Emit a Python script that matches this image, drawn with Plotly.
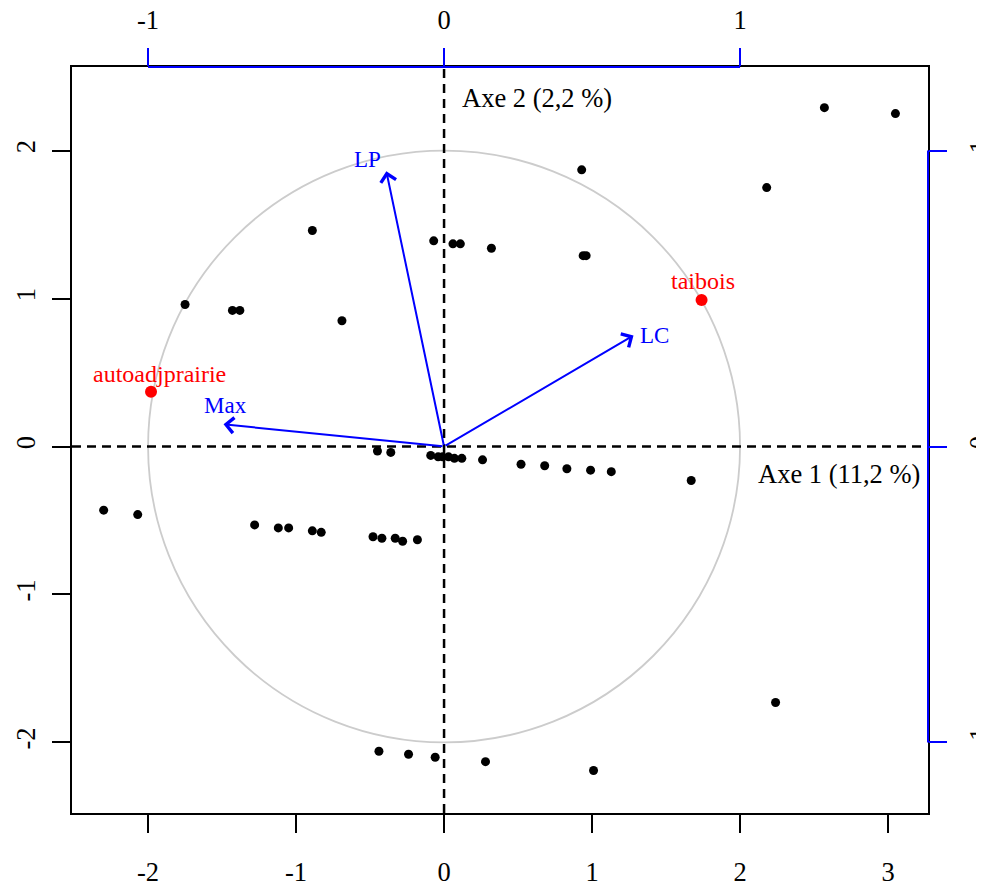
import plotly.graph_objects as go

# ---- data ----
pt_x = [2.57, 3.05, 0.93, 2.18, 0.94, 0.96, -0.07, 0.06, 0.11, 0.32, -0.89, -1.75,
        -1.43, -1.38, -0.69,
        -0.45, -0.36,
        -0.09, -0.04, -0.01, 0.03, 0.07, 0.12, 0.26,
        0.52, 0.68, 0.83, 0.99, 1.13, 1.67,
        -2.30, -2.07, -1.28, -1.12, -1.05, -0.89, -0.83, -0.48, -0.42, -0.33, -0.28, -0.18,
        -0.44, -0.24, -0.06, 0.28, 1.01, 2.24]
pt_y = [2.29, 2.25, 1.87, 1.75, 1.29, 1.29, 1.39, 1.37, 1.37, 1.34, 1.46, 0.96,
        0.92, 0.92, 0.85,
        -0.03, -0.04,
        -0.06, -0.07, -0.07, -0.07, -0.08, -0.08, -0.09,
        -0.12, -0.13, -0.15, -0.16, -0.17, -0.23,
        -0.43, -0.46, -0.53, -0.55, -0.55, -0.57, -0.58, -0.61, -0.62, -0.62, -0.64, -0.63,
        -2.06, -2.08, -2.10, -2.13, -2.19, -1.73]

red_names = ["autoadjprairie", "taibois"]
red_x = [-1.98, 1.74]
red_y = [0.37, 0.99]
red_lab_x = [-1.92, 1.75]
red_lab_y = [0.49, 1.12]

arrow_names = ["LP", "Max", "LC"]
arrow_x = [-0.39, -1.49, 1.28]
arrow_y = [1.86, 0.15, 0.75]
arrow_lab_x = [-0.52, -1.48, 1.42]
arrow_lab_y = [1.94, 0.28, 0.75]

circle_radius = 2
x_ticks = [-2, -1, 0, 1, 2, 3]
y_ticks = [-2, -1, 0, 1, 2]
top_ticks = [-1, 0, 1]
right_ticks = [-1, 0, 1]
x_range = [-2.514, 3.27]
y_range = [-2.477, 2.565]
sec_scale = 2.0  # secondary (variables) axes scale

axis1_label = "Axe 1 (11,2 %)"
axis2_label = "Axe 2 (2,2 %)"

FONT = "Liberation Serif, Times New Roman, serif"
BLUE = "#0000FF"
RED = "#FF0000"

fig = go.Figure()

# dummy trace to activate secondary axes
fig.add_trace(go.Scatter(x=[None], y=[None], xaxis="x2", yaxis="y2",
                         showlegend=False, hoverinfo="skip"))

# black points
fig.add_trace(go.Scatter(x=pt_x, y=pt_y, mode="markers",
                         marker=dict(color="black", size=9),
                         showlegend=False))

# red labelled points
fig.add_trace(go.Scatter(x=red_x, y=red_y, mode="markers",
                         marker=dict(color=RED, size=12),
                         showlegend=False))

shapes = []
# correlation circle
shapes.append(dict(type="circle", xref="x", yref="y",
                   x0=-circle_radius, y0=-circle_radius, x1=circle_radius, y1=circle_radius,
                   line=dict(color="#CCCCCC", width=1.8), layer="below"))
# dashed axes through origin
shapes.append(dict(type="line", xref="x", yref="paper", x0=0, x1=0, y0=0, y1=1,
                   line=dict(color="black", width=2.5, dash="9px,6px")))
shapes.append(dict(type="line", xref="paper", yref="y", x0=0, x1=1, y0=0, y1=0,
                   line=dict(color="black", width=2.5, dash="9px,6px")))
# blue secondary axis lines (span between extreme ticks, as in R's axis())
shapes.append(dict(type="line", xref="x2", yref="paper",
                   x0=min(top_ticks), x1=max(top_ticks), y0=1, y1=1,
                   line=dict(color=BLUE, width=2)))
shapes.append(dict(type="line", xref="paper", yref="y2",
                   x0=1, x1=1, y0=min(right_ticks), y1=max(right_ticks),
                   line=dict(color=BLUE, width=2)))

annotations = []
for nm, ax_, ay_, lx, ly in zip(arrow_names, arrow_x, arrow_y, arrow_lab_x, arrow_lab_y):
    annotations.append(dict(x=ax_, y=ay_, ax=0, ay=0, xref="x", yref="y",
                            axref="x", ayref="y", showarrow=True, text="",
                            arrowhead=4, arrowsize=1.5, arrowwidth=2, arrowcolor=BLUE))
    annotations.append(dict(x=lx, y=ly, xref="x", yref="y", text=nm, showarrow=False,
                            font=dict(family=FONT, size=23, color=BLUE)))

for nm, lx, ly in zip(red_names, red_lab_x, red_lab_y):
    annotations.append(dict(x=lx, y=ly, xref="x", yref="y", text=nm, showarrow=False,
                            font=dict(family=FONT, size=24, color=RED)))

annotations.append(dict(x=0, y=1, xref="x", yref="paper", text=axis2_label,
                        showarrow=False, xanchor="left", yanchor="top", xshift=16, yshift=-14,
                        font=dict(family=FONT, size=26.5, color="black")))
annotations.append(dict(x=1, y=0, xref="paper", yref="y", text=axis1_label,
                        showarrow=False, xanchor="right", yanchor="top", xshift=-6, yshift=-10,
                        font=dict(family=FONT, size=26.5, color="black")))

tickfont = dict(family=FONT, size=26.5, color="black")

# the page body adds an 8px offset; the figure is sized so that the plot box
# lands where the reference has it in the 984x886 window
fig.update_layout(
    width=976, height=878, autosize=False,
    margin=dict(l=64, r=56, t=59, b=73),
    paper_bgcolor="white", plot_bgcolor="white",
    showlegend=False,
    font=dict(family=FONT),
    shapes=shapes, annotations=annotations,
    xaxis=dict(range=x_range, tickvals=x_ticks, ticktext=[str(v) for v in x_ticks],
               ticks="outside", ticklen=18, tickwidth=1.5, tickcolor="black",
               showline=True, linecolor="black", linewidth=2, mirror=True,
               showgrid=False, zeroline=False, tickfont=tickfont, automargin=False,
               ticklabelstandoff=16),
    yaxis=dict(range=y_range, tickvals=y_ticks, ticktext=[str(v) for v in y_ticks],
               ticks="outside", ticklen=18, tickwidth=1.5, tickcolor="black",
               showline=True, linecolor="black", linewidth=2, mirror=True,
               showgrid=False, zeroline=False, tickfont=tickfont, tickangle=-90,
               automargin=False, ticklabelstandoff=6),
    xaxis2=dict(range=[v / sec_scale for v in x_range], overlaying="x", side="top",
                anchor="y", tickvals=top_ticks, ticktext=[str(v) for v in top_ticks],
                ticks="outside", ticklen=18, tickwidth=1.5, tickcolor=BLUE,
                showline=False, showgrid=False, zeroline=False, tickfont=tickfont,
                automargin=False, ticklabelstandoff=8),
    yaxis2=dict(range=[v / sec_scale for v in y_range], overlaying="y", side="right",
                anchor="x", tickvals=right_ticks, ticktext=[str(v) for v in right_ticks],
                ticks="outside", ticklen=18, tickwidth=1.5, tickcolor=BLUE,
                showline=False, showgrid=False, zeroline=False, tickfont=tickfont,
                tickangle=-90, automargin=False, ticklabelstandoff=9,
                ticklabeloverflow="allow"),
)

fig.write_html("out.html")
